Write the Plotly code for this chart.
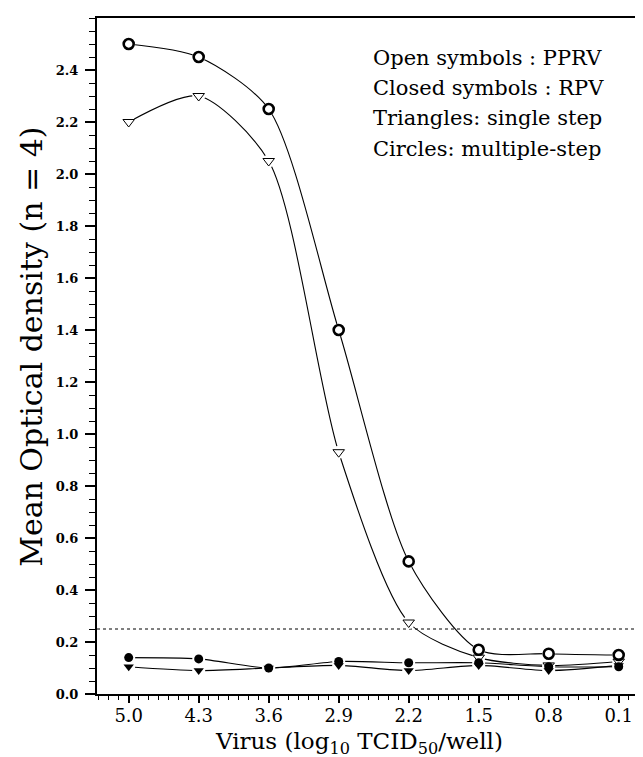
import plotly.graph_objects as go

# ---- data ----
virus_log = [5.0, 4.3, 3.6, 2.9, 2.2, 1.5, 0.8, 0.1]
x_tick_labels = ["5.0", "4.3", "3.6", "2.9", "2.2", "1.5", "0.8", "0.1"]
pprv_multi = [2.50, 2.45, 2.25, 1.40, 0.51, 0.17, 0.155, 0.15]      # open circles
pprv_single = [2.20, 2.30, 2.05, 0.93, 0.275, 0.14, 0.11, 0.125]   # open triangles
rpv_multi = [0.14, 0.135, 0.10, 0.125, 0.12, 0.12, 0.105, 0.105]   # closed circles
rpv_single = [0.105, 0.09, 0.10, 0.11, 0.09, 0.11, 0.09, 0.11]     # closed triangles
y_tick_vals = [0.0, 0.2, 0.4, 0.6, 0.8, 1.0, 1.2, 1.4, 1.6, 1.8, 2.0, 2.2, 2.4]
y_tick_labels = ["0.0", "0.2", "0.4", "0.6", "0.8", "1.0", "1.2", "1.4", "1.6", "1.8", "2.0", "2.2", "2.4"]
cutoff = 0.25
legend_lines = ["Open symbols : PPRV", "Closed symbols : RPV",
                "Triangles: single step", "Circles: multiple-step"]

FONT = "DejaVu Serif, serif"

series = [
    (pprv_multi, "circle-open", 10, 2.6),
    (pprv_single, "triangle-down-open", 10, 1.0),
    (rpv_multi, "circle", 9, 0),
    (rpv_single, "triangle-down", 9, 0),
]

fig = go.Figure()
# lines
for ys, sym, sz, lw in series:
    fig.add_trace(go.Scatter(x=virus_log, y=ys, mode="lines",
                             line=dict(color="black", width=1.1, shape="spline", smoothing=0.75),
                             hoverinfo="skip", showlegend=False))
# white halos to create gaps around the symbols
for ys, sym, sz, lw in series:
    fig.add_trace(go.Scatter(x=virus_log, y=ys, mode="markers",
                             marker=dict(symbol="circle", size=13, color="white", line=dict(width=0)),
                             hoverinfo="skip", showlegend=False))
# symbols
for ys, sym, sz, lw in series:
    if "open" in sym:
        mk = dict(symbol=sym, size=sz, color="black", line=dict(color="black", width=lw))
    else:
        mk = dict(symbol=sym, size=sz, color="black", line=dict(width=0))
    fig.add_trace(go.Scatter(x=virus_log, y=ys, mode="markers", marker=mk, showlegend=False))

fig.add_shape(type="line", xref="paper", x0=0, x1=1, yref="y", y0=cutoff, y1=cutoff,
              line=dict(color="black", width=1, dash="dot"), layer="below")

ann = []
ly = [0.941, 0.896, 0.852, 0.806]
for txt, yy in zip(legend_lines, ly):
    ann.append(dict(text=txt, xref="paper", yref="paper", x=0.4946, y=yy,
                    xanchor="left", yanchor="middle", showarrow=False,
                    font=dict(family=FONT, size=21, color="black")))
ann.append(dict(text="Mean Optical density (n = 4)", xref="paper", yref="paper",
                x=-0.118, y=0.513, xanchor="center", yanchor="middle", textangle=-90,
                showarrow=False, font=dict(family=FONT, size=30, color="black")))
ann.append(dict(text="Virus (log<sub>10</sub> TCID<sub>50</sub>/well)", xref="paper", yref="paper",
                x=0.473, y=-0.073, xanchor="center", yanchor="middle",
                showarrow=False, font=dict(family=FONT, size=23, color="black")))

fig.update_layout(
    width=643, height=757,
    margin=dict(l=89, r=0, t=10, b=71),
    paper_bgcolor="white", plot_bgcolor="white",
    annotations=ann,
    xaxis=dict(range=[5.317, -0.223], tickvals=virus_log, ticktext=x_tick_labels,
               ticks="outside", ticklen=7, tickwidth=1.5, tickcolor="black",
               showline=True, linecolor="black", linewidth=2, mirror=True,
               showgrid=False, zeroline=False, ticklabelstandoff=-3,
               tickfont=dict(family=FONT, size=18, color="black"),
               minor=dict(tickmode="linear", tick0=0.1, dtick=0.1, ticks="outside",
                          ticklen=4, tickwidth=1, tickcolor="black", showgrid=False)),
    yaxis=dict(range=[0, 2.6], tickvals=y_tick_vals, ticktext=y_tick_labels,
               ticks="outside", ticklen=10, tickwidth=1.5, tickcolor="black",
               showline=True, linecolor="black", linewidth=2,
               showgrid=False, zeroline=False, ticklabelstandoff=4,
               tickfont=dict(family=FONT, size=13, color="black", weight="bold"),
               minor=dict(tickmode="linear", tick0=0, dtick=0.05, ticks="outside",
                          ticklen=6, tickwidth=1, tickcolor="black", showgrid=False)),
)

fig.write_html("out.html")
